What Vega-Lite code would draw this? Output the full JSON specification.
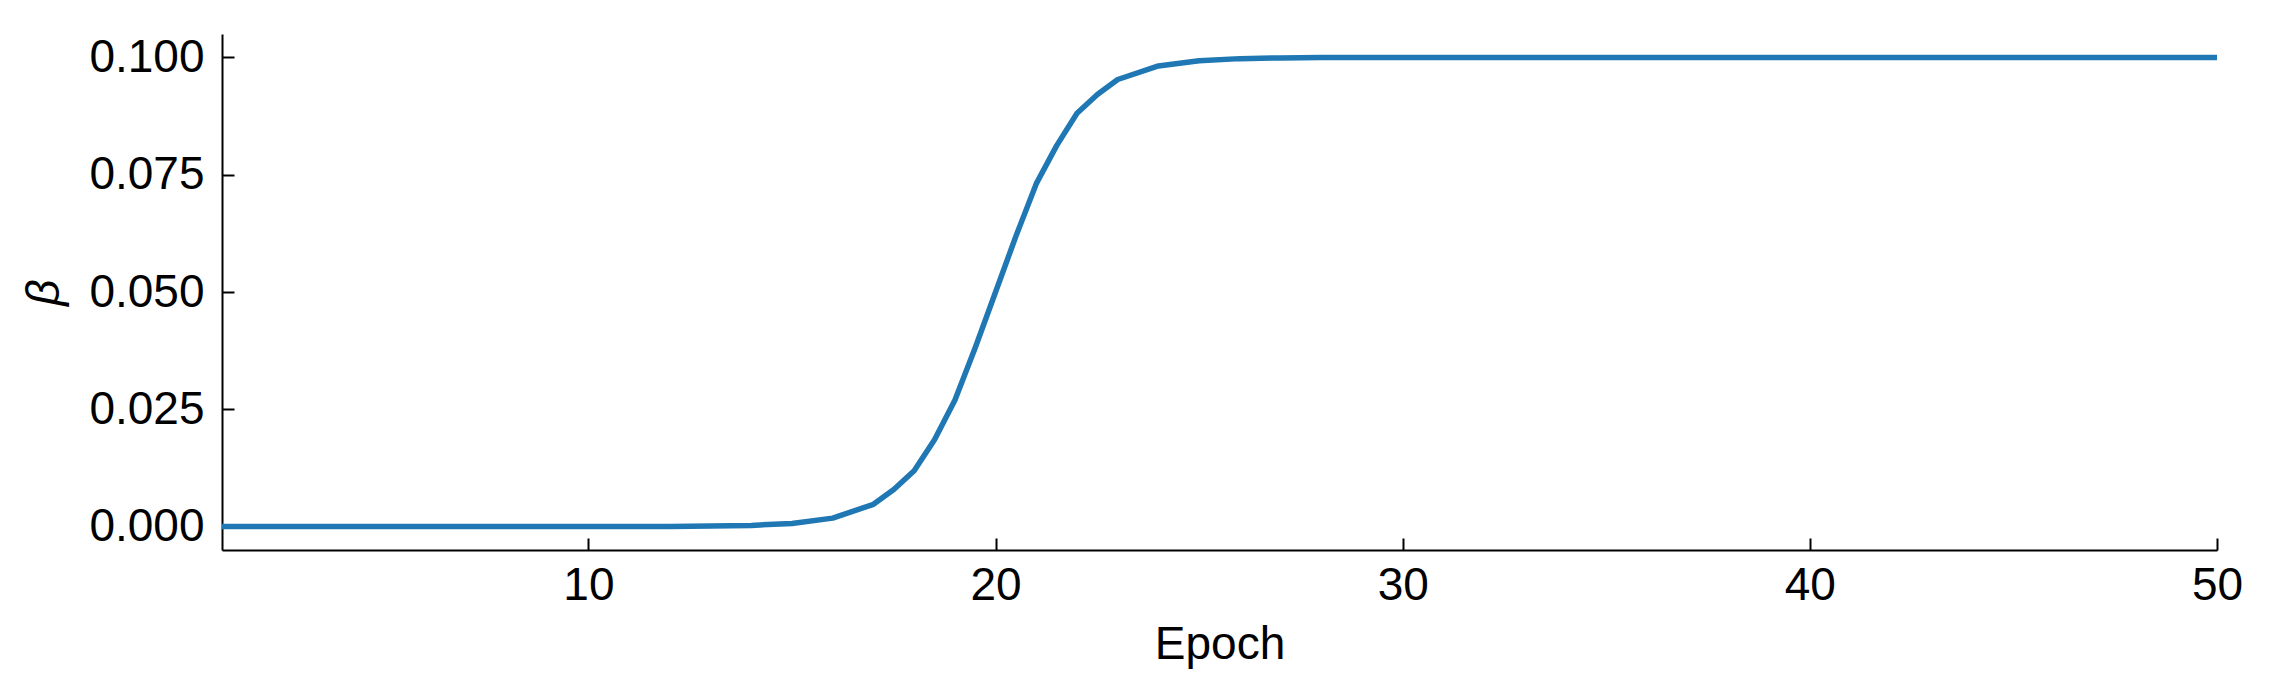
{
  "$schema": "https://vega.github.io/schema/vega-lite/v6.json",
  "autosize": {"type": "none"},
  "padding": {"left": 222, "top": 34, "right": 52, "bottom": 138},
  "width": 1995,
  "height": 516,
  "background": "white",
  "config": {
    "view": {"stroke": null},
    "font": "Liberation Sans",
    "axis": {
      "domainColor": "black",
      "domainWidth": 2,
      "tickColor": "black",
      "tickWidth": 2,
      "tickSize": -12,
      "grid": false,
      "labelFont": "Liberation Sans",
      "labelFontSize": 46,
      "labelColor": "black",
      "titleFont": "Liberation Sans",
      "titleFontSize": 46,
      "titleFontWeight": "normal",
      "titleColor": "black"
    }
  },
  "data": {
    "values": [
      {"epoch": 1, "beta": 0.0},
      {"epoch": 2, "beta": 0.0},
      {"epoch": 3, "beta": 0.0},
      {"epoch": 4, "beta": 0.0},
      {"epoch": 5, "beta": 0.0},
      {"epoch": 6, "beta": 0.0},
      {"epoch": 7, "beta": 0.0},
      {"epoch": 8, "beta": 0.0000001},
      {"epoch": 9, "beta": 0.0000002},
      {"epoch": 10, "beta": 0.0000045},
      {"epoch": 11, "beta": 0.0000123},
      {"epoch": 12, "beta": 0.0000335},
      {"epoch": 13, "beta": 0.000091},
      {"epoch": 14, "beta": 0.000247},
      {"epoch": 15, "beta": 0.000669},
      {"epoch": 16, "beta": 0.0018},
      {"epoch": 17, "beta": 0.00474},
      {"epoch": 17.5, "beta": 0.0079},
      {"epoch": 18, "beta": 0.0119},
      {"epoch": 18.5, "beta": 0.0185},
      {"epoch": 19, "beta": 0.0269},
      {"epoch": 19.5, "beta": 0.0381},
      {"epoch": 20, "beta": 0.05},
      {"epoch": 20.5, "beta": 0.0619},
      {"epoch": 21, "beta": 0.0731},
      {"epoch": 21.5, "beta": 0.0812},
      {"epoch": 22, "beta": 0.0881},
      {"epoch": 22.5, "beta": 0.0921},
      {"epoch": 23, "beta": 0.0953},
      {"epoch": 24, "beta": 0.0982},
      {"epoch": 25, "beta": 0.0993},
      {"epoch": 26, "beta": 0.09975},
      {"epoch": 27, "beta": 0.09991},
      {"epoch": 28, "beta": 0.09997},
      {"epoch": 29, "beta": 0.09999},
      {"epoch": 30, "beta": 0.099995},
      {"epoch": 31, "beta": 0.099998},
      {"epoch": 32, "beta": 0.1},
      {"epoch": 33, "beta": 0.1},
      {"epoch": 34, "beta": 0.1},
      {"epoch": 35, "beta": 0.1},
      {"epoch": 36, "beta": 0.1},
      {"epoch": 37, "beta": 0.1},
      {"epoch": 38, "beta": 0.1},
      {"epoch": 39, "beta": 0.1},
      {"epoch": 40, "beta": 0.1},
      {"epoch": 41, "beta": 0.1},
      {"epoch": 42, "beta": 0.1},
      {"epoch": 43, "beta": 0.1},
      {"epoch": 44, "beta": 0.1},
      {"epoch": 45, "beta": 0.1},
      {"epoch": 46, "beta": 0.1},
      {"epoch": 47, "beta": 0.1},
      {"epoch": 48, "beta": 0.1},
      {"epoch": 49, "beta": 0.1},
      {"epoch": 50, "beta": 0.1}
    ]
  },
  "mark": {"type": "line", "color": "#1f77b4", "strokeWidth": 5.5, "strokeJoin": "round", "strokeCap": "butt"},
  "encoding": {
    "x": {
      "field": "epoch",
      "type": "quantitative",
      "scale": {"domain": [1, 50], "nice": false, "zero": false},
      "axis": {"title": "Epoch", "values": [10, 20, 30, 40, 50], "labelPadding": 25, "titlePadding": 14, "labelFlush": false}
    },
    "y": {
      "field": "beta",
      "type": "quantitative",
      "scale": {"domain": [-0.005, 0.105], "nice": false, "zero": false},
      "axis": {"title": "β", "titleFontStyle": "italic", "values": [0, 0.025, 0.05, 0.075, 0.1], "format": ".3f", "labelPadding": 30, "titlePadding": 20, "labelFlush": false}
    }
  }
}
